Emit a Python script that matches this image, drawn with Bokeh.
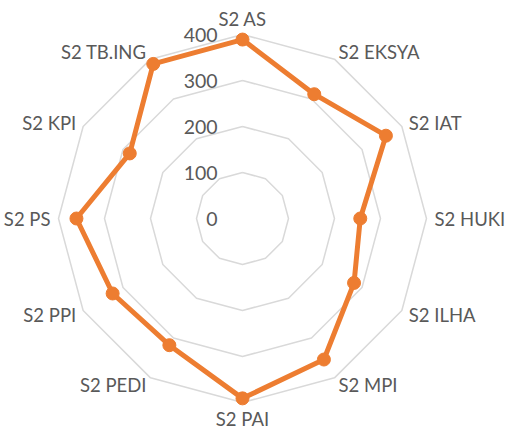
import numpy as np
from bokeh.plotting import figure
from bokeh.models import ColumnDataSource
from bokeh.core.properties import value
from bokeh.embed import file_html
from bokeh.resources import INLINE

categories = ["S2 AS", "S2 EKSYA", "S2 IAT", "S2 HUKI", "S2 ILHA", "S2 MPI",
              "S2 PAI", "S2 PEDI", "S2 PPI", "S2 PS", "S2 KPI", "S2 TB.ING"]
values = [389, 312, 360, 256, 280, 354, 391, 318, 326, 361, 283, 388]
ring_values = [100, 200, 300, 400]
tick_labels = ["0", "100", "200", "300", "400"]
tick_values = [0, 100, 200, 300, 400]

ORANGE = "#ED7D31"
GRID = "#D9D9D9"
TXT = "#595959"
FONT = "Lato"

W, H = 508, 432
scale = 0.46  # px per unit
cx_px, cy_px = 242, 218
x0 = -cx_px / scale
x1 = (W - cx_px) / scale
y1 = cy_px / scale
y0 = -(H - cy_px) / scale

p = figure(width=W, height=H, output_backend="svg", toolbar_location=None,
           x_range=(x0, x1), y_range=(y0, y1), min_border=0)
p.axis.visible = False
p.grid.visible = False
p.outline_line_color = None
p.background_fill_color = "white"
p.border_fill_color = "white"

n = len(categories)
ang = np.array([i * 2 * np.pi / n for i in range(n)])
sx, cy = np.sin(ang), np.cos(ang)

# grid rings
for rv in ring_values:
    xs = list(rv * sx) + [rv * sx[0]]
    ys = list(rv * cy) + [rv * cy[0]]
    p.line(xs, ys, line_color=GRID, line_width=1.5)

# data
vals = np.array(values, dtype=float)
dx = vals * sx
dy = vals * cy
p.line(list(dx) + [dx[0]], list(dy) + [dy[0]], line_color=ORANGE, line_width=5,
       line_join="round")
p.scatter(dx, dy, size=13, fill_color=ORANGE, line_color=ORANGE)

# tick labels
tsrc = ColumnDataSource(dict(x=[-54] * len(tick_values), y=tick_values, t=tick_labels))
p.text("x", "y", text="t", source=tsrc, text_align="right", text_baseline="middle",
       text_font=value(FONT), text_font_size="19.5px", text_color=TXT)

# category labels
maxr = max(ring_values)
lx, ly, aligns, bases = [], [], [], []
for a in ang:
    s, c = np.sin(a), np.cos(a)
    if abs(s) < 1e-6:
        r = maxr + 5 / scale
        aligns.append("center")
        bases.append("bottom" if c > 0 else "top")
    else:
        r = maxr + 8 / scale
        aligns.append("left" if s > 0 else "right")
        bases.append("middle")
    lx.append(r * s)
    ly.append(r * c)
lsrc = ColumnDataSource(dict(x=lx, y=ly, t=categories, a=aligns, b=bases))
p.text("x", "y", text="t", source=lsrc, text_align="a", text_baseline="b",
       text_font=value(FONT), text_font_size="18.5px", text_color=TXT)

open("out.html", "w").write(file_html(p, INLINE))
